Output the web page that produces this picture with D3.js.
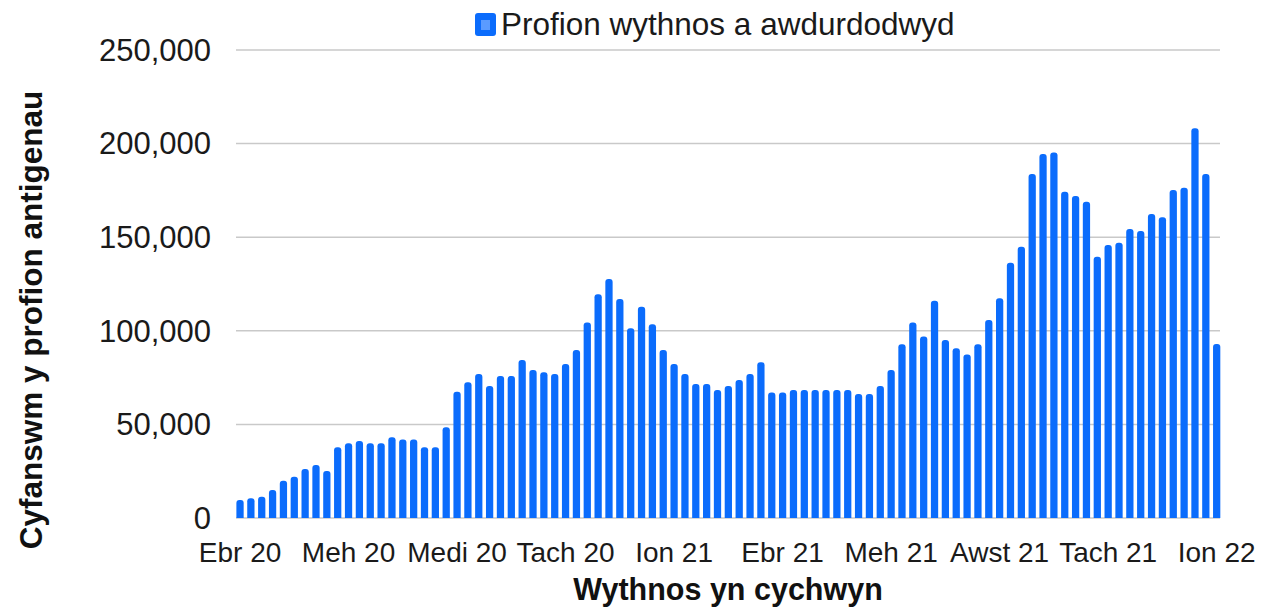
<!DOCTYPE html>
<html>
<head>
<meta charset="utf-8">
<script src="https://cdn.jsdelivr.net/npm/d3@7"></script>
<style>
  html, body { margin: 0; padding: 0; background: #ffffff; }
  svg { display: block; font-family: "Liberation Sans", Arial, sans-serif; }
</style>
</head>
<body>
<svg id="chart" width="1269" height="611"></svg>
<script>
// Weekly authorised antigen tests (values in thousands)
const weekValues = [
  9.6, 10.5, 11.4, 15.0, 19.9, 22.1, 26.2, 28.3, 25.1, 37.8,
  39.9, 41.1, 39.9, 39.9, 43.1, 42.0, 42.0, 37.8, 37.8, 48.5,
  67.5, 72.5, 76.9, 70.5, 75.9, 75.9, 84.4, 79.1, 77.8, 76.9,
  82.3, 89.7, 104.5, 119.5, 127.7, 117.0, 101.3, 112.9, 103.5, 89.7,
  82.3, 76.9, 71.6, 71.6, 68.4, 70.5, 73.7, 76.9, 83.2, 67.1,
  67.1, 68.4, 68.4, 68.4, 68.4, 68.4, 68.4, 66.2, 66.2, 70.5,
  79.1, 92.8, 104.5, 96.9, 116.1, 95.1, 90.7, 87.4, 92.8, 105.8,
  117.4, 136.4, 144.9, 183.8, 194.4, 195.3, 174.3, 172.0, 169.0, 139.6,
  145.8, 147.1, 154.4, 153.3, 162.4, 160.6, 175.2, 176.4, 208.2, 183.8,
  92.9
].map(v => v * 1000);

const weekIndex = weekValues.map((_, i) => i);
const tickLabels = ["Ebr 20", "Meh 20", "Medi 20", "Tach 20", "Ion 21",
                    "Ebr 21", "Meh 21", "Awst 21", "Tach 21", "Ion 22"];
const tickEvery = 10;
const yTicks = [0, 50000, 100000, 150000, 200000, 250000];
const seriesName = "Profion wythnos a awdurdodwyd";
const xTitle = "Wythnos yn cychwyn";
const yTitle = "Cyfanswm y profion antigenau";

const svg = d3.select("#chart");
const barColor = "#0b6cfc";

const x = d3.scaleBand()
  .domain(weekIndex)
  .range([234.6, 1222.1])
  .paddingInner(0.33)
  .paddingOuter(0.165);

const y = d3.scaleLinear()
  .domain([0, 250000])
  .range([518, 50]);

// gridlines
svg.append("g")
  .selectAll("line")
  .data(yTicks)
  .join("line")
  .attr("x1", 236)
  .attr("x2", 1220)
  .attr("y1", d => y(d))
  .attr("y2", d => y(d))
  .attr("stroke", "#c9c9c9")
  .attr("stroke-width", 1.5);

// y axis labels
const yAxis = d3.axisLeft(y)
  .tickValues(yTicks)
  .tickSize(0)
  .tickPadding(0)
  .tickFormat(d3.format(","));
const gy = svg.append("g")
  .attr("transform", "translate(211,0)")
  .call(yAxis);
gy.select(".domain").remove();
gy.selectAll("text")
  .attr("font-family", "'Liberation Sans', Arial, sans-serif")
  .attr("font-size", 31)
  .attr("fill", "#1a1a1a")
  .attr("dy", "0.33em");

// bars
svg.append("g")
  .selectAll("path")
  .data(weekValues)
  .join("path")
  .attr("fill", barColor)
  .attr("d", (d, i) => {
    const x0 = x(i), w = x.bandwidth(), top = y(d), bot = y(0);
    const r = Math.min(3, w / 2);
    return `M${x0},${bot} L${x0},${top + r} Q${x0},${top} ${x0 + r},${top} ` +
           `L${x0 + w - r},${top} Q${x0 + w},${top} ${x0 + w},${top + r} L${x0 + w},${bot} Z`;
  });

// x axis labels
const xAxis = d3.axisBottom(x)
  .tickValues(weekIndex.filter(i => i % tickEvery === 0))
  .tickSize(0)
  .tickPadding(0)
  .tickFormat(i => tickLabels[i / tickEvery]);
const gx = svg.append("g")
  .attr("transform", "translate(0,540)")
  .call(xAxis);
gx.select(".domain").remove();
gx.selectAll("text")
  .attr("font-family", "'Liberation Sans', Arial, sans-serif")
  .attr("font-size", 28)
  .attr("fill", "#1a1a1a")
  .attr("dy", "0.8em");

// axis titles
svg.append("text")
  .attr("x", 728)
  .attr("y", 600)
  .attr("text-anchor", "middle")
  .attr("font-size", 30.5)
  .attr("font-weight", "bold")
  .attr("fill", "#111")
  .text(xTitle);

svg.append("text")
  .attr("transform", "translate(42,320) rotate(-90)")
  .attr("text-anchor", "middle")
  .attr("font-size", 31.5)
  .attr("font-weight", "bold")
  .attr("fill", "#111")
  .text(yTitle);

// legend
const lg = svg.append("g");
lg.append("rect")
  .attr("x", 475).attr("y", 13)
  .attr("width", 21).attr("height", 23)
  .attr("rx", 3)
  .attr("fill", barColor);
lg.append("rect")
  .attr("x", 481).attr("y", 20)
  .attr("width", 9).attr("height", 10)
  .attr("fill", "#5a9bff");
lg.append("text")
  .attr("x", 501)
  .attr("y", 35)
  .attr("font-size", 31.5)
  .attr("fill", "#1a1a1a")
  .text(seriesName);
</script>
</body>
</html>
